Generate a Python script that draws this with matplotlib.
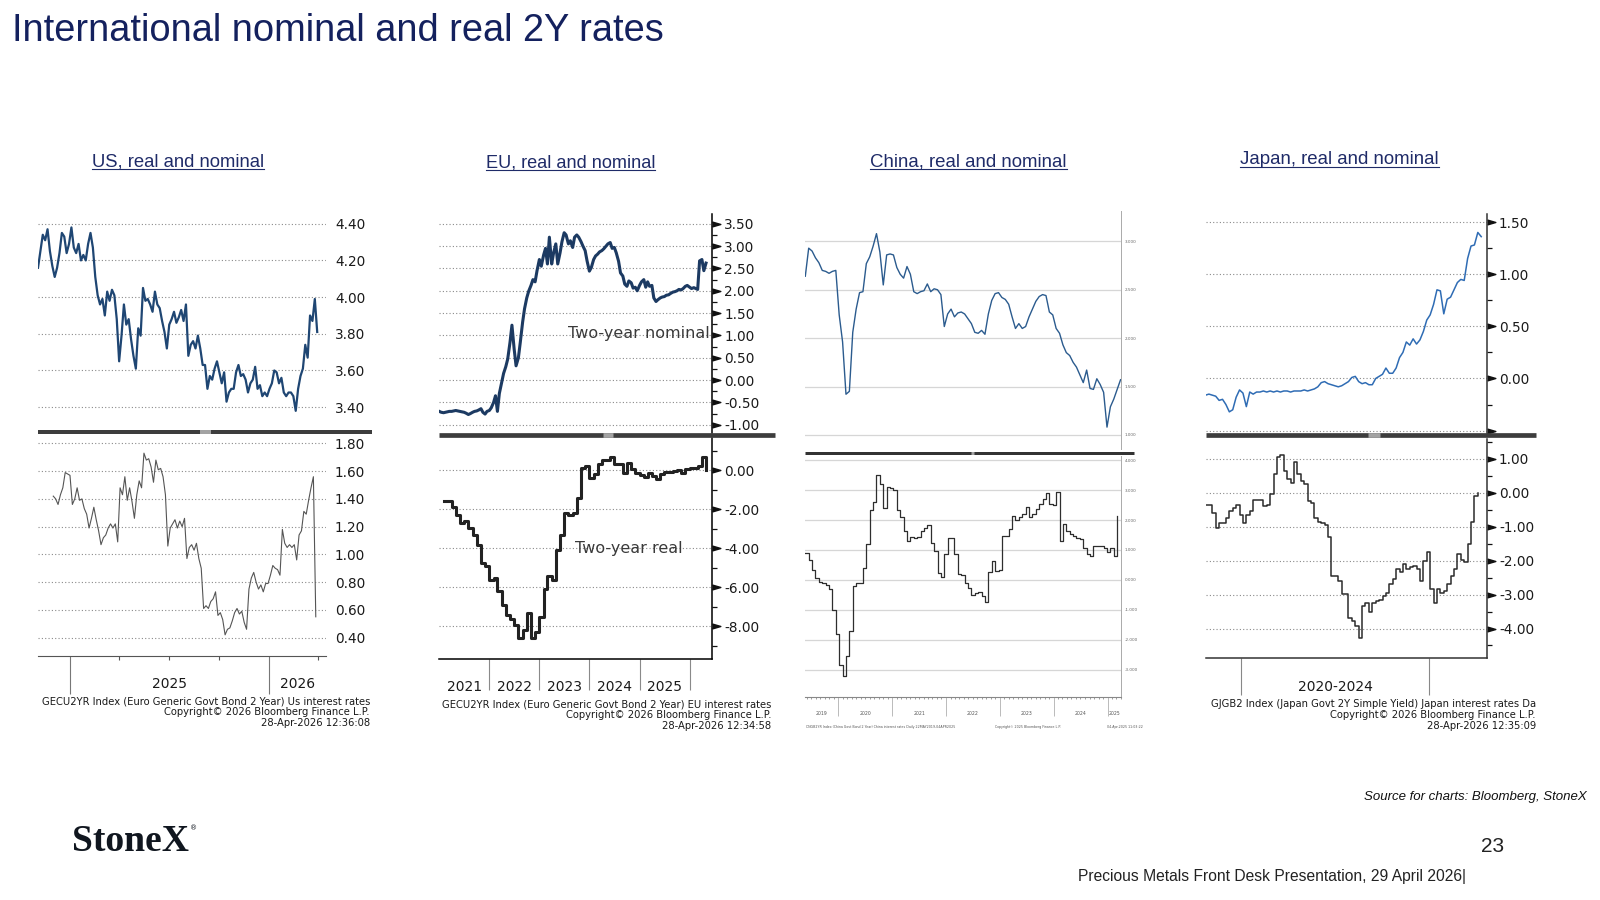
import matplotlib
matplotlib.use('Agg')
import matplotlib.pyplot as plt
import matplotlib.dates as mdates
from matplotlib.lines import Line2D
from matplotlib.transforms import blended_transform_factory
import numpy as np
import pandas as pd

# ---- values ----
us_nominal = [4.16, 4.25, 4.34, 4.31, 4.37, 4.25, 4.17, 4.11, 4.16, 4.24,
              4.35, 4.33, 4.24, 4.29, 4.38, 4.27, 4.24, 4.29, 4.20, 4.23,
              4.20, 4.29, 4.35, 4.27, 4.11, 4.01, 3.96, 3.99, 3.90, 4.03,
              3.98, 4.04, 4.01, 3.88, 3.65, 3.79, 3.96, 3.85, 3.88, 3.77,
              3.68, 3.61, 3.83, 3.79, 4.05, 3.98, 3.99, 3.96, 3.92, 4.03,
              3.96, 3.94, 3.87, 3.81, 3.72, 3.85, 3.88, 3.92, 3.86, 3.89,
              3.93, 3.87, 3.96, 3.68, 3.74, 3.76, 3.72, 3.79, 3.72, 3.63,
              3.63, 3.50, 3.57, 3.55, 3.61, 3.65, 3.59, 3.53, 3.59, 3.43,
              3.48, 3.50, 3.50, 3.59, 3.63, 3.57, 3.58, 3.55, 3.48, 3.53,
              3.55, 3.62, 3.50, 3.52, 3.46, 3.48, 3.46, 3.50, 3.53, 3.60,
              3.59, 3.53, 3.56, 3.48, 3.46, 3.48, 3.48, 3.46, 3.38, 3.50,
              3.57, 3.61, 3.74, 3.67, 3.90, 3.87, 3.99, 3.81]
us_real = [1.42, 1.40, 1.36, 1.43, 1.48, 1.59, 1.58, 1.57, 1.36, 1.40,
           1.48, 1.39, 1.40, 1.33, 1.29, 1.19, 1.26, 1.34, 1.25, 1.17,
           1.07, 1.12, 1.14, 1.19, 1.22, 1.19, 1.22, 1.09, 1.48, 1.43,
           1.56, 1.39, 1.48, 1.38, 1.26, 1.43, 1.53, 1.48, 1.73, 1.68,
           1.69, 1.63, 1.52, 1.68, 1.61, 1.62, 1.56, 1.43, 1.06, 1.19,
           1.22, 1.25, 1.19, 1.24, 1.20, 1.26, 0.97, 1.05, 1.07, 1.03,
           1.08, 0.97, 0.90, 0.61, 0.63, 0.61, 0.66, 0.68, 0.73, 0.56,
           0.58, 0.53, 0.42, 0.46, 0.47, 0.52, 0.58, 0.61, 0.57, 0.59,
           0.51, 0.46, 0.75, 0.83, 0.87, 0.80, 0.75, 0.78, 0.73, 0.79,
           0.79, 0.85, 0.92, 0.90, 0.89, 0.85, 1.18, 1.08, 1.05, 1.07,
           1.05, 1.07, 0.96, 1.14, 1.17, 1.31, 1.29, 1.39, 1.48, 1.56,
           0.55]

eu_nominal = [-0.70, -0.72, -0.73, -0.72, -0.71, -0.70, -0.70, -0.69, -0.68, -0.69,
              -0.70, -0.71, -0.72, -0.74, -0.77, -0.75, -0.72, -0.70, -0.69, -0.67,
              -0.64, -0.72, -0.76, -0.70, -0.68, -0.62, -0.50, -0.35, -0.70, -0.30,
              -0.05, 0.15, 0.30, 0.47, 0.85, 1.23, 0.70, 0.32, 0.50, 0.85,
              1.30, 1.60, 1.84, 1.99, 2.12, 2.25, 2.20, 2.45, 2.70, 2.55,
              2.80, 2.95, 2.60, 3.20, 2.60, 2.85, 3.05, 2.60, 2.85, 3.10,
              3.30, 3.25, 3.05, 3.12, 2.97, 3.20, 3.25, 3.20, 3.10, 3.00,
              2.90, 2.67, 2.44, 2.52, 2.70, 2.78, 2.82, 2.87, 2.90, 2.94,
              3.00, 3.05, 3.08, 2.95, 2.97, 2.85, 2.66, 2.40, 2.33, 2.15,
              2.10, 2.22, 2.18, 2.06, 2.08, 2.00, 2.12, 2.20, 2.25, 2.08,
              2.20, 2.10, 2.12, 1.84, 1.76, 1.80, 1.84, 1.86, 1.87, 1.90,
              1.91, 1.94, 1.97, 1.98, 2.00, 2.03, 2.02, 2.05, 2.10, 2.12,
              2.08, 2.05, 2.07, 2.05, 2.03, 2.67, 2.70, 2.45, 2.62]
eu_real = [-1.59, -1.59, -1.90, -2.30, -2.68, -2.60, -2.95, -3.30, -3.80, -4.76,
           -4.90, -5.63, -5.50, -6.20, -6.90, -7.40, -7.60, -7.90, -8.57, -8.20,
           -7.30, -8.60, -8.30, -7.50, -6.10, -5.40, -5.60, -4.10, -3.30, -2.20,
           -2.30, -2.20, -1.40, 0.10, 0.20, -0.40, -0.20, 0.35, 0.55, 0.55,
           0.70, 0.35, 0.35, -0.15, 0.40, 0.05, -0.15, -0.25, -0.35, -0.15,
           -0.30, -0.43, -0.20, -0.10, -0.10, -0.05, 0.00, -0.15, 0.05, 0.10,
           0.10, 0.20, 0.70, 0.00]

china_nominal = [2.64, 2.93, 2.90, 2.83, 2.78, 2.70, 2.69, 2.67, 2.69, 2.70,
                 2.24, 1.96, 1.42, 1.45, 2.06, 2.30, 2.47, 2.48, 2.77, 2.84,
                 2.95, 3.08, 2.89, 2.55, 2.86, 2.87, 2.86, 2.73, 2.66, 2.62,
                 2.74, 2.66, 2.48, 2.46, 2.48, 2.49, 2.56, 2.48, 2.51, 2.50,
                 2.45, 2.12, 2.25, 2.30, 2.22, 2.26, 2.27, 2.25, 2.20, 2.15,
                 2.06, 2.05, 2.08, 2.04, 2.25, 2.39, 2.46, 2.47, 2.42, 2.40,
                 2.35, 2.22, 2.10, 2.15, 2.10, 2.12, 2.22, 2.30, 2.38, 2.43,
                 2.45, 2.44, 2.27, 2.24, 2.10, 2.05, 1.93, 1.85, 1.82, 1.75,
                 1.70, 1.62, 1.54, 1.67, 1.48, 1.47, 1.58, 1.52, 1.44, 1.08,
                 1.29, 1.37, 1.47, 1.57]
china_real = [0.90, 0.68, 0.34, 0.06, -0.06, -0.11, -0.18, -0.31, -1.02, -1.81,
              -2.85, -3.20, -2.55, -1.70, -0.20, -0.11, -0.10, 0.40, 1.19, 2.32,
              2.60, 3.50, 3.20, 2.40, 3.11, 3.08, 3.00, 2.35, 2.10, 1.64,
              1.30, 1.45, 1.41, 1.45, 1.64, 1.75, 1.85, 1.25, 0.96, 0.22,
              0.11, 0.85, 1.39, 1.41, 0.85, 0.20, 0.15, -0.10, -0.28, -0.50,
              -0.45, -0.40, -0.55, -0.73, 0.28, 0.62, 0.30, 0.33, 1.47, 1.47,
              1.70, 2.15, 2.00, 2.10, 2.20, 2.43, 2.10, 2.20, 2.37, 2.54,
              2.71, 2.90, 2.55, 2.50, 2.94, 1.30, 1.86, 1.64, 1.52, 1.47,
              1.41, 1.36, 1.07, 0.85, 0.79, 1.13, 1.13, 1.13, 1.07, 0.94,
              1.07, 0.79, 2.15]

japan_nominal = [-0.16, -0.15, -0.16, -0.17, -0.21, -0.20, -0.25, -0.32, -0.30, -0.18,
                 -0.11, -0.14, -0.27, -0.13, -0.15, -0.13, -0.13, -0.12, -0.13, -0.12,
                 -0.13, -0.12, -0.13, -0.12, -0.12, -0.13, -0.12, -0.12, -0.12, -0.11,
                 -0.12, -0.11, -0.10, -0.08, -0.04, -0.03, -0.05, -0.06, -0.07, -0.08,
                 -0.07, -0.05, -0.03, 0.01, 0.02, -0.03, -0.05, -0.04, -0.06, -0.06,
                 0.00, 0.02, 0.04, 0.10, 0.05, 0.05, 0.10, 0.20, 0.25, 0.35,
                 0.32, 0.38, 0.33, 0.37, 0.45, 0.56, 0.61, 0.71, 0.85, 0.84,
                 0.62, 0.76, 0.78, 0.85, 0.92, 0.95, 0.94, 1.15, 1.27, 1.28,
                 1.40, 1.36]
japan_real = [-0.35, -0.35, -0.60, -1.05, -0.90, -0.90, -0.73, -0.55, -0.45, -0.35,
              -0.65, -0.90, -0.65, -0.55, -0.20, -0.20, -0.22, -0.40, -0.35, -0.05,
              0.55, 1.05, 1.10, 0.65, 0.40, 0.30, 0.90, 0.55, 0.35, 0.25,
              -0.25, -0.30, -0.75, -0.85, -0.90, -0.95, -1.30, -2.45, -2.45, -2.60,
              -2.99, -2.99, -3.70, -3.79, -3.94, -4.28, -3.34, -3.24, -3.50, -3.24,
              -3.19, -3.15, -3.05, -2.94, -2.70, -2.55, -2.25, -2.34, -2.10, -2.24,
              -2.20, -2.15, -2.24, -2.59, -2.00, -1.74, -2.85, -3.24, -2.84, -2.94,
              -2.89, -2.70, -2.45, -2.24, -1.79, -1.99, -2.04, -1.50, -0.85, -0.10,
              0.00]

us_nom_dates = pd.date_range('2024-11-03', periods=len(us_nominal), freq='105h')
us_real_dates = pd.date_range('2024-12-01', periods=len(us_real), freq='105h')
eu_nom_dates = pd.date_range('2021-01-01', periods=len(eu_nominal), freq='SMS')
eu_real_dates = pd.date_range('2021-02-01', periods=len(eu_real), freq='MS')
cn_nom_dates = pd.date_range('2019-05-22', periods=len(china_nominal), freq='23D')
cn_real_dates = pd.date_range('2019-05-22', periods=len(china_real), freq='23D')
jp_nom_dates = pd.date_range('2019-01-22', periods=len(japan_nominal), freq='33D')
jp_real_dates = pd.date_range('2019-01-22', periods=len(japan_real), freq='33D')

W, H = 1600, 900
NARROW = ['Liberation Sans Narrow', 'Liberation Sans']
BBG = ['DejaVu Sans']
NAVY = '#14215e'
DOT = dict(color='#8a8a8a', lw=0.8, ls=(0, (1, 2)))

fig = plt.figure(figsize=(16, 9), dpi=100)
fig.patch.set_facecolor('white')
R = fig.canvas.get_renderer()


def px_axes(x0, y0, x1, y1):
    ax = fig.add_axes([x0 / W, 1 - y1 / H, (x1 - x0) / W, (y1 - y0) / H])
    ax.set_facecolor('none')
    for s in ax.spines.values():
        s.set_visible(False)
    ax.tick_params(axis='x', bottom=False, labelbottom=False)
    return ax


def fig_line(x0, x1, y, w_px, color):
    fig.add_artist(Line2D([x0 / W, x1 / W], [1 - y / H, 1 - y / H], lw=w_px * 0.72,
                          color=color, solid_capstyle='butt'))


def separator(x0, x1, y, w_px, gap, color='#3d3d3d'):
    fig_line(x0, x1, y, w_px, color)
    fig_line(gap[0], gap[1], y, w_px, '#a3a3a3')


def fit(t, width_px):
    w = t.get_window_extent(R).width
    t.set_fontsize(t.get_fontsize() * width_px / w)


def right_labels(ax, ticks, fmt, size=9.8, pad=8.6, color='#1a1a1a', labels=None):
    if labels is None:
        labels = [fmt.format(t) for t in ticks]
    ax.set_yticks(ticks, labels)
    ax.yaxis.tick_right()
    ax.tick_params(axis='y', which='major', length=0, pad=pad, labelsize=size, labelcolor=color)
    for lab in ax.get_yticklabels():
        lab.set_family(BBG)


def arrows(ax, ticks, minor):
    tri = [(0, -0.5), (1.7, 0), (0, 0.5)]
    tr = blended_transform_factory(ax.transAxes, ax.transData)
    ax.plot([1] * len(ticks), ticks, ls='none', marker=tri, ms=12, color='#111111',
            transform=tr, clip_on=False)
    ax.set_yticks(minor, minor=True)
    ax.tick_params(axis='y', which='minor', right=True, left=False, length=3.6,
                   width=0.9, direction='out', color='#111111')


def year_labels(ax, bounds, labels, y_px, size, color='#1a1a1a'):
    tr = blended_transform_factory(ax.transData, fig.transFigure)
    for (a, b), lab in zip(bounds, labels):
        xm = (mdates.date2num(pd.Timestamp(a)) + mdates.date2num(pd.Timestamp(b))) / 2
        ax.text(xm, 1 - y_px / H, lab, transform=tr, ha='center', va='center',
                fontsize=size, color=color, family=BBG)


def year_ticks(ax, years, len_pt, color, width=0.8):
    ax.set_xticks([pd.Timestamp(y) for y in years])
    ax.tick_params(axis='x', which='major', bottom=True, labelbottom=False,
                   length=len_pt, width=width, color=color, direction='out')


def notes(x_right, y_first, lines, step, size=None, width=None):
    ts = []
    for i, line in enumerate(lines):
        ts.append(fig.text(x_right / W, 1 - (y_first + i * step) / H, line, ha='right',
                           va='center', fontsize=6.6, family=BBG, color='#1a1a1a'))
    if width is not None:
        fit(ts[0], width)
        for t in ts[1:]:
            t.set_fontsize(ts[0].get_fontsize())
    elif size is not None:
        for t in ts:
            t.set_fontsize(size)
    return ts[0].get_fontsize()


# ---- slide texts ----
title = fig.text(12.2 / W, 1 - 40.8 / H, 'International nominal and real 2Y rates',
                 fontsize=33, family=NARROW, color=NAVY, va='baseline')
fit(title, 653)

for txt, xc, yb, wd in [('US, real and nominal', 177.6, 166.3, 173.5),
                        ('EU, real and nominal', 570.4, 167.3, 170.4),
                        ('China, real and nominal', 968.4, 166.3, 198),
                        ('Japan, real and nominal', 1339.8, 164.3, 200)]:
    t = fig.text(xc / W, 1 - yb / H, txt, fontsize=16, family=NARROW, color='#1f2b68',
                 ha='center', va='baseline')
    fit(t, wd)
    bb = t.get_window_extent(R)
    uy = 1 - (yb + 2.5) / H
    fig.add_artist(Line2D([bb.x0 / W, bb.x1 / W], [uy, uy], lw=0.8, color='#1f2b68'))

src = fig.text(1587 / W, 1 - 800 / H, 'Source for charts: Bloomberg, StoneX', ha='right',
               va='baseline', fontsize=9.5, style='italic', family=['Liberation Sans'],
               color='#111111')
fit(src, 224)
fig.text(1493 / W, 1 - 852 / H, '23', ha='center', va='baseline', fontsize=15,
         family=NARROW, color='#222222')
foot = fig.text(1077.6 / W, 1 - 881 / H, 'Precious Metals Front Desk Presentation, 29 April 2026|',
                ha='left', va='baseline', fontsize=14, family=NARROW, color='#222222')
fit(foot, 390)
logo = fig.text(72.4 / W, 1 - 851 / H, 'StoneX', ha='left', va='baseline', fontsize=27,
                family=['Liberation Serif'], weight='bold', color='#10161f')
fit(logo, 117)
lb = logo.get_window_extent(R)
fig.text((lb.x1 + 1) / W, 1 - 828 / H, '®', fontsize=5, family=['DejaVu Sans'],
         color='#10161f', va='center')

# ---- US ----
us_xlim = (pd.Timestamp('2024-11-03'), pd.Timestamp('2026-04-15'))
ax = px_axes(38, 210, 326, 429)
ax.plot(us_nom_dates, us_nominal, color='#1f4673', lw=1.6)
ax.set_xlim(*us_xlim)
ax.set_ylim(3.281, 4.475)
right_labels(ax, np.round(np.arange(3.4, 4.41, 0.2), 2), '{:.2f}', pad=6.5)
ax.grid(axis='y', **DOT)

ax = px_axes(38, 434, 326, 655.5)
ax.plot(us_real_dates, us_real, color='#555555', lw=0.8)
ax.set_xlim(*us_xlim)
ax.set_ylim(0.271, 1.868)
right_labels(ax, np.round(np.arange(0.4, 1.81, 0.2), 2), '{:.2f}', pad=6.5)
ax.grid(axis='y', **DOT)
ax.spines['bottom'].set_visible(True)
ax.spines['bottom'].set_color('#555555')
year_ticks(ax, ['2025-01-01', '2026-01-01'], 27, '#777777')
ax.set_xticks([pd.Timestamp(d) for d in ['2025-04-01', '2025-07-01', '2025-10-01', '2026-04-01']],
              minor=True)
ax.tick_params(axis='x', which='minor', bottom=True, length=3, width=0.8, color='#555555')
year_labels(ax, [('2025-01-01', '2026-01-01'), ('2026-01-01', us_xlim[1])], ['2025', '2026'], 684, 10)
separator(38, 372, 431.5, 4, (199.5, 211.3))
nsz = notes(370, 701, ['GECU2YR Index (Euro Generic Govt Bond 2 Year) Us interest rates',
                       'Copyright\u00a9 2026 Bloomberg Finance L.P.',
                       '28-Apr-2026 12:36:08'], 11, width=330.5)

# ---- EU ----
eu_xlim = (pd.Timestamp('2021-01-01'), pd.Timestamp('2026-06-15'))
ax = px_axes(439.3, 213.6, 712.2, 432.6)
ax.plot(eu_nom_dates, eu_nominal, color='#1c3a62', lw=2.2)
ax.set_xlim(*eu_xlim)
ax.set_ylim(-1.175, 3.728)
t_eu1 = np.round(np.arange(-1.0, 3.51, 0.5), 2)
right_labels(ax, t_eu1, '{:.2f}')
arrows(ax, t_eu1, np.round(np.arange(-0.75, 3.6, 0.5), 2))
ax.grid(axis='y', **DOT)
ax.spines['right'].set_visible(True)
ax.spines['right'].set_linewidth(1.1)
ax.text(0.99, 1.05, 'Two-year nominal', transform=blended_transform_factory(ax.transAxes, ax.transData),
        ha='right', va='center', fontsize=11.5, family=BBG, color='#3a3a3a')

ax = px_axes(439.3, 438.3, 712.2, 659)
ax.plot(eu_real_dates, eu_real, color='#222222', lw=2.2, drawstyle='steps-post')
ax.set_xlim(*eu_xlim)
ax.set_ylim(-9.667, 1.645)
t_eu2 = [-8, -6, -4, -2, 0]
right_labels(ax, t_eu2, '{:.2f}')
arrows(ax, t_eu2, [-9, -7, -5, -3, -1, 1])
ax.grid(axis='y', **DOT)
for s in ['right', 'bottom']:
    ax.spines[s].set_visible(True)
    ax.spines[s].set_linewidth(1.1)
year_ticks(ax, ['2022-01-01', '2023-01-01', '2024-01-01', '2025-01-01', '2026-01-01'], 22.4, '#8a8a8a')
year_labels(ax, [(f'{y}-01-01', f'{y + 1}-01-01') for y in range(2021, 2026)],
            [str(y) for y in range(2021, 2026)], 686.6, 10)
ax.text(0.496, -4.0, 'Two-year real', transform=blended_transform_factory(ax.transAxes, ax.transData),
        ha='left', va='center', fontsize=11.5, family=BBG, color='#3a3a3a')
separator(439.3, 774.7, 434.9, 4.7, (602.6, 612.7))
notes(771.4, 704.2, ['GECU2YR Index (Euro Generic Govt Bond 2 Year) EU interest rates',
                     'Copyright\u00a9 2026 Bloomberg Finance L.P.',
                     '28-Apr-2026 12:34:58'], 10.7, size=nsz)

# ---- China ----
cn_xlim = (pd.Timestamp('2019-05-22'), pd.Timestamp('2025-04-02'))
GRID_CN = dict(color='#d6d6d6', lw=0.9, ls='-')
ax = px_axes(805.3, 211, 1121, 449)
ax.plot(cn_nom_dates, china_nominal, color='#2b5b8e', lw=1.0)
ax.set_xlim(*cn_xlim)
ax.set_ylim(0.854, 3.314)
right_labels(ax, [1.0, 1.5, 2.0, 2.5, 3.0], '{:.3f}', size=3, pad=2.5, color='#666666')
ax.grid(axis='y', **GRID_CN)
ax.spines['right'].set_visible(True)
ax.spines['right'].set_color('#aaaaaa')
ax.spines['right'].set_linewidth(0.7)

ax = px_axes(805.3, 456, 1121, 696.8)
ax.plot(cn_real_dates, china_real, color='#2e2e2e', lw=0.9, drawstyle='steps-post')
ax.set_xlim(*cn_xlim)
ax.set_ylim(-3.905, 4.14)
right_labels(ax, [-3, -2, -1, 0, 1, 2, 3, 4], '{:.3f}', size=3, pad=2.5, color='#666666')
ax.grid(axis='y', **GRID_CN)
ax.spines['right'].set_visible(True)
ax.spines['right'].set_color('#aaaaaa')
ax.spines['right'].set_linewidth(0.7)
ax.spines['bottom'].set_visible(True)
ax.spines['bottom'].set_color('#888888')
year_ticks(ax, [f'{y}-01-01' for y in range(2020, 2026)], 14, '#b0b0b0', width=0.6)
ax.xaxis.set_minor_locator(mdates.MonthLocator())
ax.tick_params(axis='x', which='minor', bottom=True, length=1.6, width=0.5, color='#777777')
cn_bounds = [(cn_xlim[0], '2020-01-01')] + [(f'{y}-01-01', f'{y + 1}-01-01') for y in range(2020, 2025)] \
    + [('2025-01-01', cn_xlim[1])]
year_labels(ax, cn_bounds, [str(y) for y in range(2019, 2026)], 713.6, 3.3, color='#555555')
separator(805.3, 1134, 452.8, 3, (971, 974.5), color='#333333')
for txt, xl in [('CNGB2YR Index (China Govt Bond 2 Year) China interest rates Daily 22MAY2019-04APR2025', 806),
                ('Copyright\u00a9 2025 Bloomberg Finance L.P.', 995),
                ('04-Apr-2025 11:03:22', 1107)]:
    fig.text(xl / W, 1 - 727 / H, txt, fontsize=2.3, family=BBG, color='#555555', va='center')

# ---- Japan ----
jp_xlim = (pd.Timestamp('2019-01-22'), pd.Timestamp('2026-07-14'))
ax = px_axes(1205.5, 213.7, 1487.1, 432.7)
ax.plot(jp_nom_dates, japan_nominal, color='#2f6cb4', lw=1.1)
ax.set_xlim(*jp_xlim)
ax.set_ylim(-0.52, 1.58)
t_jp1 = [-0.5, 0.0, 0.5, 1.0, 1.5]
right_labels(ax, t_jp1, '{:.2f}', labels=['', '0.00', '0.50', '1.00', '1.50'])
arrows(ax, t_jp1, [-0.25, 0.25, 0.75, 1.25])
ax.grid(axis='y', **DOT)
ax.spines['right'].set_visible(True)
ax.spines['right'].set_color('#333333')
ax.spines['right'].set_linewidth(1.1)

ax = px_axes(1205.5, 438.5, 1487.1, 658.2)
ax.plot(jp_real_dates, japan_real, color='#2b2b2b', lw=1.1, drawstyle='steps-post')
ax.set_xlim(*jp_xlim)
ax.set_ylim(-4.875, 1.6)
t_jp2 = [-4, -3, -2, -1, 0, 1]
right_labels(ax, t_jp2, '{:.2f}')
arrows(ax, t_jp2, [-4.5, -3.5, -2.5, -1.5, -0.5, 0.5, 1.5])
ax.grid(axis='y', **DOT)
for s in ['right', 'bottom']:
    ax.spines[s].set_visible(True)
    ax.spines[s].set_color('#333333')
    ax.spines[s].set_linewidth(1.1)
year_ticks(ax, ['2020-01-01', '2025-01-01'], 26.6, '#888888')
year_labels(ax, [('2020-01-01', '2025-01-01')], ['2020-2024'], 687, 10)
separator(1205.5, 1536, 435.1, 4.7, (1367.8, 1379.6))
notes(1536, 704, ['GJGB2 Index (Japan Govt 2Y Simple Yield) Japan interest rates Da',
                  'Copyright\u00a9 2026 Bloomberg Finance L.P.',
                  '28-Apr-2026 12:35:09'], 11.2, size=nsz)

fig.savefig('out.png', dpi=100, facecolor='white')
